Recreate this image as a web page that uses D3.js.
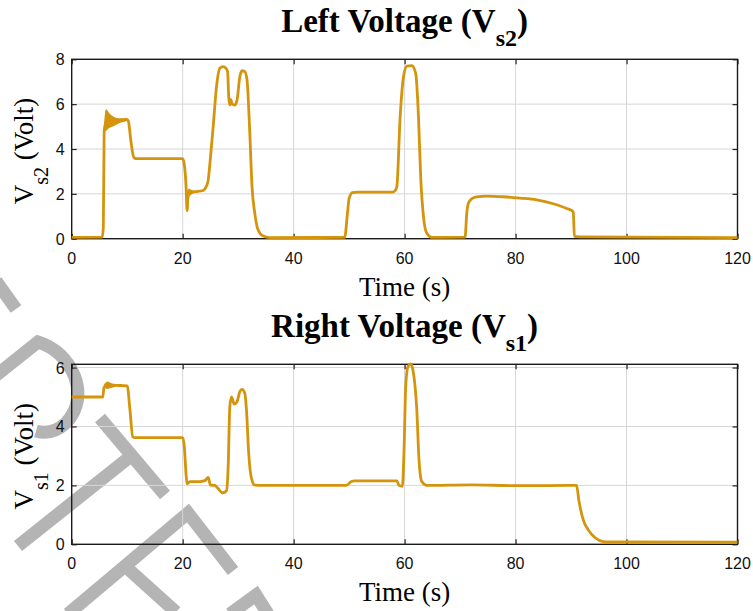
<!DOCTYPE html>
<html>
<head>
<meta charset="utf-8">
<script src="https://cdn.jsdelivr.net/npm/d3@7"></script>
<style>
  html, body { margin: 0; padding: 0; background: #fff; }
  svg { display: block; }
</style>
</head>
<body>
<div id="plot"></div>
<script>
// time (s) / voltage readings, left sensor (Vs2)
var leftTime = [0, 5.5, 5.7, 5.85, 6.2, 7.5, 8.7, 9.9, 10.2, 10.7, 11.2, 11.6, 20.0, 20.3, 20.6, 20.8, 21.0, 21.5, 22.5, 23.7, 24.2, 24.6, 25.0, 25.5, 26.1, 26.7, 27.3, 27.8, 28.1, 28.3, 28.5, 28.7, 28.9, 29.4, 29.8, 30.3, 30.7, 31.2, 31.6, 32.1, 32.5, 33.0, 33.6, 34.5, 35.7, 49.2, 49.7, 50.0, 50.6, 51.4, 57.9, 58.3, 58.6, 59.2, 59.8, 60.4, 61.3, 62.0, 62.5, 62.9, 63.4, 64.0, 64.9, 70.9, 71.2, 71.5, 72.1, 73.0, 74.8, 77.8, 80.8, 83.8, 86.8, 89.2, 90.4, 90.6, 91.6, 120];
var leftVolt = [0.06, 0.07, 0.5, 4.8, 5.2, 5.25, 5.3, 5.32, 5.25, 4.3, 3.62, 3.57, 3.57, 3.3, 2.4, 1.25, 2.1, 2.08, 2.1, 2.15, 2.3, 2.6, 3.6, 5.0, 6.78, 7.6, 7.67, 7.6, 7.45, 6.33, 5.96, 6.2, 6.0, 5.96, 6.18, 7.22, 7.49, 7.45, 7.08, 4.7, 2.32, 1.13, 0.39, 0.12, 0.05, 0.06, 1.13, 1.8, 2.06, 2.08, 2.08, 2.15, 2.32, 5.44, 7.22, 7.70, 7.72, 7.37, 5.44, 2.76, 0.98, 0.24, 0.06, 0.07, 1.13, 1.58, 1.78, 1.87, 1.90, 1.87, 1.81, 1.73, 1.56, 1.35, 1.2, 0.1, 0.08, 0.05];

// time (s) / voltage readings, right sensor (Vs1)
var rightTime = [0, 5.6, 5.8, 6.4, 7.5, 10.0, 10.5, 11.0, 11.4, 20.0, 20.3, 20.6, 20.8, 21.3, 23.1, 24.0, 24.6, 25.0, 25.8, 26.4, 27.2, 27.9, 28.2, 28.5, 28.8, 29.3, 29.8, 30.3, 30.7, 31.2, 31.5, 31.9, 32.4, 33.0, 34.4, 49.5, 50.4, 51.0, 58.6, 59.0, 59.6, 59.9, 60.2, 60.6, 61.1, 61.5, 62.2, 62.6, 63.1, 64.0, 72.0, 80.0, 91.0, 91.4, 92.2, 93.1, 94.3, 95.8, 96.8, 120];
var rightVolt = [5.0, 5.0, 5.3, 5.45, 5.4, 5.38, 4.56, 3.65, 3.62, 3.62, 3.31, 2.41, 2.05, 2.13, 2.13, 2.16, 2.27, 2.01, 2.0, 1.89, 1.75, 1.82, 2.63, 4.67, 5.0, 4.76, 4.84, 5.18, 5.26, 5.13, 4.56, 3.09, 2.24, 2.01, 2.0, 2.0, 2.13, 2.15, 2.15, 2.0, 1.97, 3.2, 5.35, 6.03, 6.12, 5.92, 4.56, 2.86, 2.13, 2.0, 2.02, 1.99, 2.0, 1.5, 0.83, 0.49, 0.23, 0.09, 0.08, 0.07];

// oscillation envelopes (filled bands)
var leftBandTime  = [5.9, 6.2, 6.6, 7.5, 8.7, 9.9, 10.1];
var leftBandHigh  = [4.8, 5.74, 5.6, 5.41, 5.33, 5.32, 5.3];
var leftBandLow   = [4.8, 4.85, 4.95, 5.05, 5.2, 5.28, 5.3];
var leftBand2Time = [20.85, 21.1, 21.5, 22.0];
var leftBand2High = [1.3, 2.2, 2.15, 2.1];
var leftBand2Low  = [1.3, 1.9, 2.0, 2.08];
var rightBandTime = [6.0, 6.4, 7.0, 7.8];
var rightBandHigh = [5.35, 5.5, 5.45, 5.4];
var rightBandLow  = [5.35, 5.3, 5.33, 5.37];

var xTicks = [0, 20, 40, 60, 80, 100, 120];
var leftYTicks = [0, 2, 4, 6, 8];
var rightYTicks = [0, 2, 4, 6];

function zip(t, v) { return t.map(function(d, i) { return {t: d, v: v[i]}; }); }
function zipBand(t, hi, lo) { return t.map(function(d, i) { return {t: d, hi: hi[i], lo: lo[i]}; }); }

var panels = [
  {title: "Left Voltage (V", sub: "s2", ylab: "s2", top: 59.3, bottom: 238.7, ymax: 8, yTicks: leftYTicks,
   line: zip(leftTime, leftVolt),
   bands: [zipBand(leftBandTime, leftBandHigh, leftBandLow), zipBand(leftBand2Time, leftBand2High, leftBand2Low)]},
  {title: "Right Voltage (V", sub: "s1", ylab: "s1", top: 364.3, bottom: 544.3, ymax: 6.11, yTicks: rightYTicks,
   line: zip(rightTime, rightVolt),
   bands: [zipBand(rightBandTime, rightBandHigh, rightBandLow)]}
];

var width = 753, height = 611;
var lineColor = "#d4940c";
var serif = "'Liberation Serif', 'Times New Roman', serif";
var sans = "'Liberation Sans', Arial, sans-serif";

var svg = d3.select("#plot").append("svg")
  .attr("width", width)
  .attr("height", height);

// grey "draft" watermark strokes, bottom layer
var wm = svg.append("g")
  .style("fill", "none").style("stroke", "#b4b4b4")
  .style("stroke-width", 13).style("stroke-linecap", "butt");
wm.append("path").attr("d", "M-4,281 L16,309");
wm.append("path").attr("d", "M-6,377 L38,342 C72,352 92,396 66,423 C56,432 46,434 36,431");
wm.append("path").attr("d", "M100,418 L165,495");
wm.append("path").attr("d", "M18,546 L131,456");
wm.append("path").attr("d", "M68,614 L188,513 L233,571");
wm.append("path").attr("d", "M126,567 L176,612");
wm.append("path").attr("d", "M230,614 L256,595 L268,614");

var x = d3.scaleLinear().domain([0, 120]).range([71.7, 737.5]);

panels.forEach(function(p) {
  var y = d3.scaleLinear().domain([0, p.ymax]).range([p.bottom, p.top]);
  var g = svg.append("g").attr("class", "panel");

  // grid
  g.selectAll(".vgrid").data(xTicks.slice(1, -1)).join("line")
    .attr("x1", d => x(d)).attr("x2", d => x(d))
    .attr("y1", p.top).attr("y2", p.bottom)
    .style("stroke", "#d6d6d6").style("stroke-width", 1);
  g.selectAll(".hgrid").data(p.yTicks.filter(d => d > 0 && d < p.ymax)).join("line")
    .attr("x1", x(0)).attr("x2", x(120))
    .attr("y1", d => y(d)).attr("y2", d => y(d))
    .style("stroke", "#d6d6d6").style("stroke-width", 1);

  // axes, ticks pointing inward on all four sides
  g.append("g").attr("transform", `translate(0,${p.bottom})`)
    .call(d3.axisTop(x).tickValues(xTicks).tickSize(5).tickFormat(""));
  g.append("g").attr("transform", `translate(0,${p.top})`)
    .call(d3.axisBottom(x).tickValues(xTicks).tickSize(5).tickFormat(""));
  g.append("g").attr("transform", `translate(${x(0)},0)`)
    .call(d3.axisRight(y).tickValues(p.yTicks).tickSize(5).tickFormat(""));
  g.append("g").attr("transform", `translate(${x(120)},0)`)
    .call(d3.axisLeft(y).tickValues(p.yTicks).tickSize(5).tickFormat(""));
  g.selectAll(".domain").remove();
  g.selectAll(".tick line").style("stroke", "#222").style("stroke-width", 1.2);

  g.append("rect")
    .attr("x", x(0)).attr("y", p.top)
    .attr("width", x(120) - x(0)).attr("height", p.bottom - p.top)
    .style("fill", "none").style("stroke", "#1a1a1a").style("stroke-width", 1.4);

  // tick labels
  g.selectAll(".xlab").data(xTicks).join("text")
    .attr("x", d => x(d)).attr("y", p.bottom + 25)
    .attr("text-anchor", "middle")
    .style("font-family", sans).style("font-size", "16px").style("fill", "#111")
    .text(d => d);
  g.selectAll(".ylab").data(p.yTicks).join("text")
    .attr("x", x(0) - 7).attr("y", d => y(d) + 6)
    .attr("text-anchor", "end")
    .style("font-family", sans).style("font-size", "16px").style("fill", "#111")
    .text(d => d);

  // title
  var title = g.append("text")
    .attr("x", (x(0) + x(120)) / 2).attr("y", p.top - 27)
    .attr("text-anchor", "middle")
    .style("font-family", serif).style("font-weight", "bold").style("font-size", "33px");
  title.append("tspan").text(p.title);
  title.append("tspan").attr("dy", 14).style("font-size", "24px").text(p.sub);
  title.append("tspan").attr("dy", -14).text(")");

  // x label
  g.append("text")
    .attr("x", (x(0) + x(120)) / 2).attr("y", p.bottom + 57)
    .attr("text-anchor", "middle")
    .style("font-family", serif).style("font-size", "27px")
    .text("Time (s)");

  // y label
  var yl = g.append("text")
    .attr("transform", `translate(33,${(p.top + p.bottom) / 2 + 2}) rotate(-90)`)
    .attr("text-anchor", "middle")
    .style("font-family", serif).style("font-size", "27px");
  yl.append("tspan").text("V");
  yl.append("tspan").attr("dy", 15).style("font-size", "20px").text(p.ylab);
  yl.append("tspan").attr("dy", -15).text(" (Volt)");

  // data
  var area = d3.area()
    .x(d => x(d.t)).y0(d => y(d.lo)).y1(d => y(d.hi))
    .curve(d3.curveMonotoneX);
  p.bands.forEach(function(b) {
    g.append("path").datum(b).attr("d", area)
      .style("fill", lineColor).style("stroke", lineColor).style("stroke-width", 1.5);
  });
  var line = d3.line().x(d => x(d.t)).y(d => y(d.v)).curve(d3.curveMonotoneX);
  g.append("path").datum(p.line).attr("d", line)
    .style("fill", "none").style("stroke", lineColor)
    .style("stroke-width", 2.8).style("stroke-linejoin", "round");
});
</script>
</body>
</html>
